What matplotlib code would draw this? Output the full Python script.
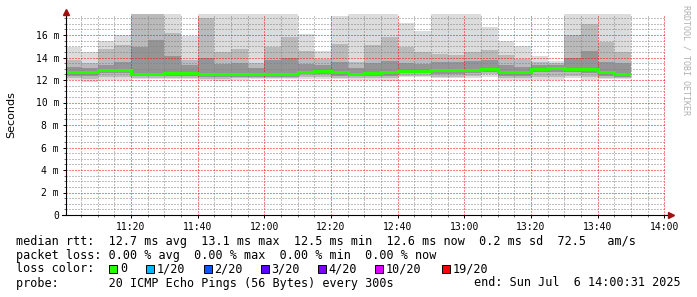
import numpy as np
import matplotlib
matplotlib.use('Agg')
import matplotlib.pyplot as plt
from matplotlib.patches import Rectangle

# graph window and 5 minute sample end times
graph_start = "11:00:31"
graph_end = "14:00:31"
sample_ends = ["11:05", "11:10", "11:15", "11:20", "11:25", "11:30", "11:35", "11:40",
               "11:45", "11:50", "11:55", "12:00", "12:05", "12:10", "12:15", "12:20",
               "12:25", "12:30", "12:35", "12:40", "12:45", "12:50", "12:55", "13:00",
               "13:05", "13:10", "13:15", "13:20", "13:25", "13:30", "13:35", "13:40",
               "13:45", "13:50"]

# smoke levels in ms (min/max of the 20 pings, plus inner bands) and the median
ping_max = [14.9, 14.5, 15.5, 16.0, 18.0, 18.0, 18.0, 15.9, 18.0, 18.0, 18.0, 18.0,
            18.0, 18.0, 16.1, 14.6, 17.7, 18.0, 18.0, 18.0, 17.1, 16.4, 18.0, 18.0,
            18.0, 16.7, 15.5, 15.0, 14.1, 13.7, 18.0, 18.0, 18.0, 18.0]
ping_hi = [13.8, 13.5, 14.8, 15.1, 18.0, 18.0, 16.2, 13.8, 17.5, 14.5, 14.8, 13.5,
           14.9, 15.8, 14.6, 13.9, 15.2, 13.6, 15.1, 15.8, 14.9, 14.5, 14.3, 14.2,
           14.5, 14.7, 14.2, 13.9, 13.6, 13.5, 16.0, 17.0, 15.4, 14.5]
ping_hi_in = [13.2, 13.1, 13.3, 13.6, 14.9, 15.6, 14.1, 13.3, 14.0, 13.4, 13.5, 13.1,
              13.8, 14.0, 13.4, 13.3, 13.6, 13.1, 13.5, 13.7, 13.5, 13.4, 13.6, 13.6,
              13.7, 13.8, 13.3, 13.2, 13.3, 13.3, 14.0, 14.6, 13.6, 13.5]
ping_lo_in = [12.4, 12.4, 12.6, 12.6, 12.4, 12.4, 12.4, 12.4, 12.3, 12.3, 12.3, 12.3,
              12.3, 12.3, 12.5, 12.5, 12.4, 12.4, 12.4, 12.4, 12.6, 12.6, 12.5, 12.5,
              12.6, 12.7, 12.4, 12.4, 12.7, 12.7, 12.7, 12.6, 12.4, 12.3]
ping_lo = [12.2, 12.1, 12.3, 12.3, 12.2, 12.2, 12.2, 12.2, 12.1, 12.1, 12.2, 12.2,
           12.2, 12.2, 12.3, 12.3, 12.2, 12.2, 12.2, 12.2, 12.4, 12.4, 12.3, 12.3,
           12.4, 12.5, 12.2, 12.2, 12.3, 12.3, 12.4, 12.3, 12.2, 12.2]
ping_min = [12.0, 11.8, 12.0, 12.0, 12.1, 12.1, 12.1, 12.1, 12.0, 11.9, 12.0, 12.1,
            12.1, 12.1, 12.1, 12.1, 12.1, 12.0, 12.0, 11.9, 12.3, 12.3, 12.2, 12.2,
            12.2, 12.3, 12.0, 12.0, 12.0, 12.0, 12.2, 12.0, 12.1, 12.1]
median = [12.68, 12.70, 12.86, 12.86, 12.53, 12.50, 12.62, 12.65, 12.50, 12.50, 12.50, 12.50,
          12.50, 12.50, 12.71, 12.80, 12.68, 12.53, 12.62, 12.68, 12.83, 12.83, 12.86, 12.86,
          12.92, 13.00, 12.74, 12.68, 13.00, 13.07, 13.00, 12.98, 12.68, 12.56]

x_ticks = ["11:20", "11:40", "12:00", "12:20", "12:40", "13:00", "13:20", "13:40", "14:00"]
y_ticks = [0, 2, 4, 6, 8, 10, 12, 14, 16]

loss_labels = ["0", "1/20", "2/20", "3/20", "4/20", "10/20", "19/20"]
loss_colors = ["#26ff00", "#00b8ff", "#0059ff", "#5e00ff", "#7e00ff", "#dd00ff", "#ff0000"]

legend_rtt = "median rtt:  12.7 ms avg  13.1 ms max  12.5 ms min  12.6 ms now  0.2 ms sd  72.5   am/s"
legend_loss = "packet loss: 0.00 % avg  0.00 % max  0.00 % min  0.00 % now"
legend_probe = "probe:       20 ICMP Echo Pings (56 Bytes) every 300s"
legend_end = "end: Sun Jul  6 14:00:31 2025"


def to_min(s):
    """minutes after 11:00"""
    parts = [int(p) for p in s.split(":")]
    m = (parts[0] - 11) * 60 + parts[1]
    if len(parts) > 2:
        m += parts[2] / 60.0
    return m


edges = [to_min(graph_start)] + [to_min(t) for t in sample_ends]

W, H = 697, 297
fig = plt.figure(figsize=(W / 100, H / 100), dpi=100)
fig.patch.set_facecolor('white')

# plot area in pixels: x 66..666, y 14..215
ax = fig.add_axes([66 / W, (H - 215) / H, 600 / W, 201 / H])
ax.set_xlim(to_min(graph_start), to_min(graph_end))
ax.set_ylim(0, 201 / 11.25)

# smoke
ax.stairs(ping_max, edges, baseline=ping_min, fill=True, color='#dcdcdc', lw=0, zorder=1)
ax.stairs(ping_hi, edges, baseline=ping_lo, fill=True, color='#bababa', lw=0, zorder=1.1)
ax.stairs(ping_hi_in, edges, baseline=ping_lo_in, fill=True, color='#959595', lw=0, zorder=1.2)
# median line
ax.stairs(median, edges, baseline=None, color=loss_colors[0], lw=2.2, zorder=3)

# grid
ax.set_xticks([to_min(t) for t in x_ticks])
ax.set_xticklabels(x_ticks)
ax.set_xticks(np.arange(5, 180, 5), minor=True)
ax.set_yticks(y_ticks)
ax.set_yticklabels(["0" if v == 0 else "%d m" % v for v in y_ticks])
ax.set_yticks(np.arange(0.5, 17.9, 0.5), minor=True)
ax.set_axisbelow(False)
ax.grid(which='minor', color=(0.5, 0.5, 0.5, 0.3), lw=0.72, linestyle=(0, (1, 2)))
ax.grid(which='major', color=(1, 0, 0, 0.22), lw=0.72, linestyle=(0, (1, 2)))

for s in ax.spines.values():
    s.set_visible(False)
ax.tick_params(which='major', direction='out', length=2, width=0.7, color='black',
               labelsize=7, pad=3)
ax.tick_params(which='minor', direction='out', length=1.2, width=0.6, color='#555555')
for lab in ax.get_xticklabels() + ax.get_yticklabels():
    lab.set_family('DejaVu Sans Mono')

# axes with arrows
ax.plot([0, 0], [0, 1.005], transform=ax.transAxes, clip_on=False, color='black', lw=0.8, zorder=4)
ax.plot([-0.007, 1.004], [0, 0], transform=ax.transAxes, clip_on=False, color='black', lw=0.8, zorder=4)
ax.plot(0, 1.01, marker='^', ms=4, color='#a01010', transform=ax.transAxes, clip_on=False, zorder=5)
ax.plot(1.008, 0, marker='>', ms=4, color='#a01010', transform=ax.transAxes, clip_on=False, zorder=5)

ax.set_ylabel("Seconds", fontsize=8, family='DejaVu Sans')
ax.yaxis.set_label_coords(-50 / 600, 0.5)

fig.text(686 / W, 1 - 5 / H, "RRDTOOL / TOBI OETIKER", rotation=-90, ha='center', va='top',
         fontsize=6, family='DejaVu Sans Mono', color='#b0b0b0')


def px_text(x, y, s, **kw):
    fig.text(x / W, 1 - y / H, s, va='center', fontsize=8.5, family='DejaVu Sans Mono', **kw)


px_text(16, 241, legend_rtt)
px_text(16, 255, legend_loss)

px_text(16, 269, "loss color:")
sq_x = [109, 146, 203.5, 260.5, 317.5, 375, 441.5]
lab_x = [120, 156.5, 214, 271, 328, 386, 452.5]
for sx, lx, lab, c in zip(sq_x, lab_x, loss_labels, loss_colors):
    fig.patches.append(Rectangle((sx / W, 1 - 273 / H), 8 / W, 8 / H, transform=fig.transFigure,
                                 facecolor=c, edgecolor='black', lw=0.7))
    px_text(lx, 269, lab)

px_text(16, 283, legend_probe)
px_text(681, 283, legend_end, ha='right')

fig.savefig("out.png", dpi=100, facecolor='white')
